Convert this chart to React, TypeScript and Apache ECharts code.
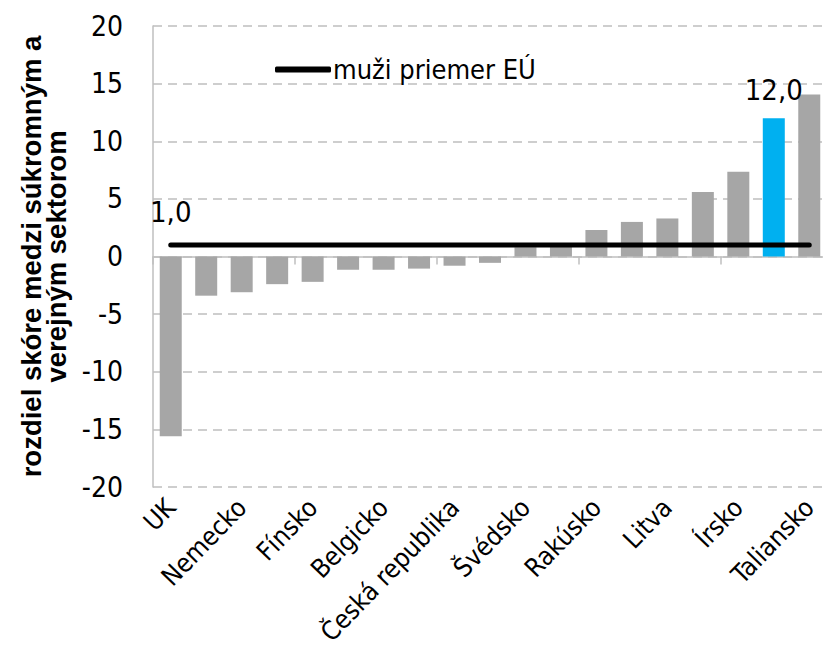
import React, { useEffect, useRef } from "react";
import * as echarts from "echarts";

const categories = [
  "UK", "Holandsko", "Nemecko", "Dánsko", "Fínsko", "Estónsko", "Belgicko", "Francúzsko",
  "Česká republika", "Poľsko", "Švédsko", "Cyprus", "Rakúsko", "Slovinsko", "Litva",
  "Španielsko", "Írsko", "Slovensko", "Taliansko",
];
const diffValues = [
  -15.6, -3.4, -3.1, -2.4, -2.2, -1.15, -1.15, -1.05, -0.8, -0.55,
  0.8, 0.9, 2.3, 3.0, 3.3, 5.6, 7.35, 12.0, 14.05,
];
const highlightIndex = 17;
const euAverageMen = 1.0;
const lineName = "muži priemer EÚ";
const yTitle = "rozdiel skóre medzi súkromným a\nverejným sektorom";

const NARROW = '"Liberation Sans Narrow", "Arial Narrow", "DejaVu Sans Condensed", "Liberation Sans", sans-serif';
const REG = '"Liberation Sans", Arial, sans-serif';

const fmt = (v: number) => v.toFixed(1).replace(".", ",");

export default function App() {
  const ref = useRef<HTMLDivElement>(null);
  useEffect(() => {
    if (!ref.current) return;
    const chart = echarts.init(ref.current, null, { renderer: "svg" });
    const barData = diffValues.map((v, i) =>
      i === highlightIndex
        ? {
            value: v,
            itemStyle: { color: "#00b0f0" },
            label: {
              show: true,
              position: "top",
              distance: 14,
              formatter: (p: any) => fmt(p.value),
              fontFamily: NARROW,
              fontSize: 29,
              color: "#000",
            },
          }
        : { value: v }
    );
    const lineData = categories.map((_, i) =>
      i === 0
        ? {
            value: euAverageMen,
            label: {
              show: true,
              position: "top",
              distance: 18,
              formatter: (p: any) => fmt(p.value),
              fontFamily: NARROW,
              fontSize: 29,
              color: "#000",
            },
          }
        : { value: euAverageMen }
    );
    chart.setOption({
      animation: false,
      backgroundColor: "#fff",
      grid: {
        left: 153,
        right: -4,
        top: 26,
        bottom: 170,
        containLabel: false,
        outerBoundsMode: "none",
      },
      legend: {
        show: true,
        left: 275,
        top: 56,
        padding: 0,
        data: [{ name: lineName, icon: "roundRect" }],
        itemWidth: 56,
        itemHeight: 6,
        itemGap: 0,
        textStyle: { fontFamily: NARROW, fontSize: 27, color: "#000", padding: [0, 0, 0, -3] },
      },
      xAxis: [
        {
          type: "category",
          data: categories,
          position: "bottom",
          axisLine: { show: false, onZero: false },
          axisTick: { show: false },
          axisLabel: {
            interval: 1,
            rotate: 46,
            margin: 16,
            fontFamily: NARROW,
            fontSize: 26,
            color: "#000",
          },
        },
        {
          type: "category",
          data: categories,
          position: "bottom",
          axisLine: { show: true, onZero: true, lineStyle: { color: "#bfbfbf", width: 1.5 } },
          axisTick: { show: true, length: 8, lineStyle: { color: "#bfbfbf", width: 1.5 } },
          axisLabel: { show: false },
        },
      ],
      yAxis: {
        type: "value",
        min: -20,
        max: 20,
        interval: 5,
        name: yTitle,
        nameLocation: "middle",
        nameGap: 76,
        nameTextStyle: {
          fontFamily: REG,
          fontWeight: "bold",
          fontSize: 27.5,
          lineHeight: 25,
          color: "#000",
        },
        axisLine: { show: true, lineStyle: { color: "#bfbfbf", width: 1.5 } },
        axisTick: { show: false },
        axisLabel: { fontFamily: NARROW, fontSize: 28, color: "#000", margin: 30 },
        splitLine: { show: true, lineStyle: { color: "#bfbfbf", type: [9, 6], width: 1.5 } },
      },
      series: [
        {
          type: "bar",
          name: "rozdiel",
          xAxisIndex: 0,
          data: barData,
          barWidth: 22,
          itemStyle: { color: "#a6a6a6" },
        },
        {
          type: "line",
          name: lineName,
          xAxisIndex: 0,
          data: lineData,
          symbol: "circle",
          symbolSize: 1,
          showSymbol: true,
          itemStyle: { color: "#000" },
          lineStyle: { color: "#000", width: 5, cap: "round" },
          z: 5,
        },
      ],
    });
    return () => chart.dispose();
  }, []);
  return (
    <div
      ref={ref}
      style={{ position: "absolute", left: 0, top: 0, width: 823, height: 657 }}
    />
  );
}
